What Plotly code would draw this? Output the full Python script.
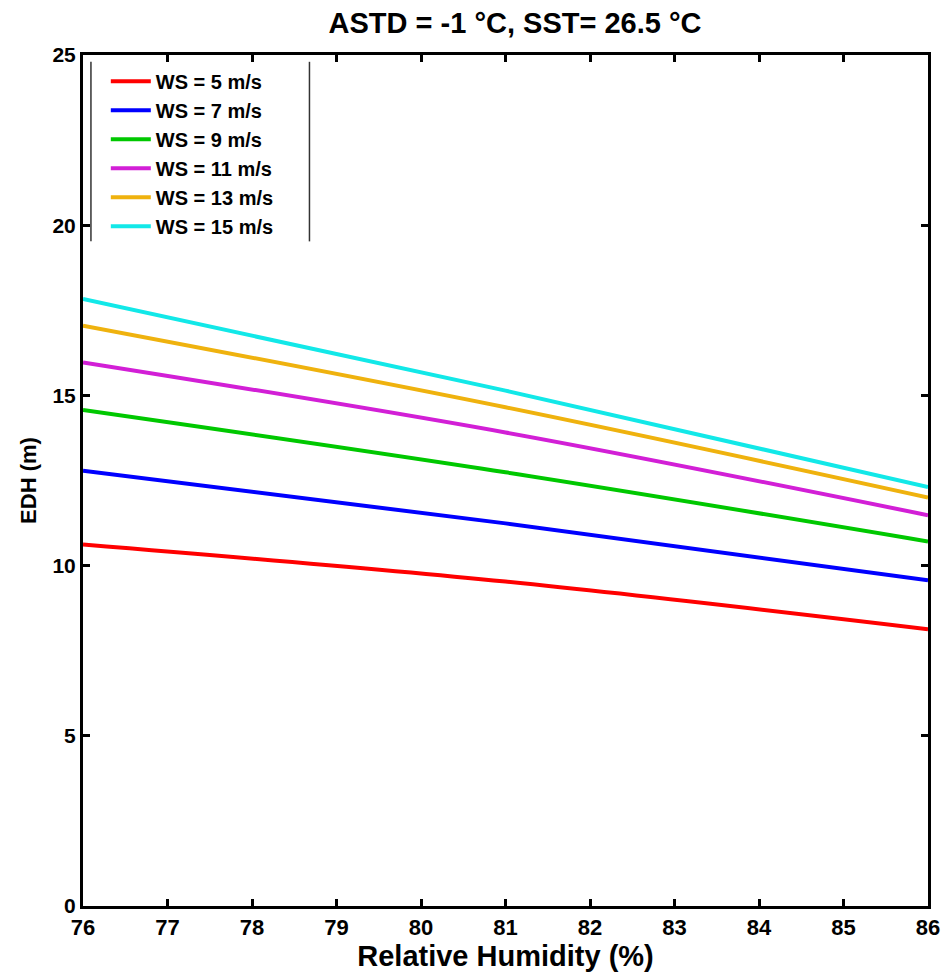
import plotly.graph_objects as go

# Relative humidity sample points (%)
rh = [76, 81, 86]

# Evaporation duct height (m) for each wind speed
edh_ws5 = [10.62, 9.53, 8.13]
edh_ws7 = [12.79, 11.24, 9.57]
edh_ws9 = [14.57, 12.74, 10.71]
edh_ws11 = [15.97, 13.91, 11.48]
edh_ws13 = [17.05, 14.65, 12.00]
edh_ws15 = [17.83, 15.14, 12.31]

series_names = ["WS = 5 m/s", "WS = 7 m/s", "WS = 9 m/s",
                "WS = 11 m/s", "WS = 13 m/s", "WS = 15 m/s"]
series_values = [edh_ws5, edh_ws7, edh_ws9, edh_ws11, edh_ws13, edh_ws15]
series_colors = ["#ff0000", "#0000ff", "#00c800", "#d21fd6", "#efb20e", "#12e8e8"]

x_ticks = list(range(76, 87))
y_ticks = [0, 5, 10, 15, 20, 25]

fig = go.Figure()
for name, vals, col in zip(series_names, series_values, series_colors):
    fig.add_trace(go.Scatter(
        x=rh, y=vals, name=name, mode="lines",
        line=dict(color=col, width=4, shape="spline"),
    ))

font = "Liberation Sans"

fig.update_layout(
    width=952, height=977,
    margin=dict(l=83, r=15, t=55, b=65),
    paper_bgcolor="white", plot_bgcolor="white",
    showlegend=True,
    title=dict(
        text="<b>ASTD = -1 °C, SST= 26.5 °C</b>",
        x=0.541, xanchor="center", y=0.977, yanchor="middle",
        font=dict(family=font, size=29, color="black"),
    ),
    legend=dict(
        x=0.027, y=0.992, xanchor="left", yanchor="top",
        bgcolor="rgba(0,0,0,0)", borderwidth=0,
        font=dict(family=font, size=20, color="black", weight="bold"),
        itemwidth=40,
    ),
    xaxis=dict(
        range=[76, 86], tickvals=x_ticks,
        ticks="inside", ticklen=7, tickwidth=3, tickcolor="black",
        showline=True, linewidth=3, linecolor="black", mirror="ticks",
        showgrid=False, zeroline=False,
        tickfont=dict(family=font, size=22, color="black", weight="bold"),
        title=dict(text="<b>Relative Humidity (%)</b>", standoff=4,
                   font=dict(family=font, size=29, color="black")),
    ),
    yaxis=dict(
        range=[0, 25], tickvals=y_ticks,
        ticks="inside", ticklen=7, tickwidth=3, tickcolor="black",
        showline=True, linewidth=3, linecolor="black", mirror="ticks",
        showgrid=False, zeroline=False,
        tickfont=dict(family=font, size=21, color="black", weight="bold"),
        title=dict(text="<b>EDH (m)</b>", standoff=10,
                   font=dict(family=font, size=22, color="black")),
    ),
)

# Vertical rules on either side of the legend
for xp in [0.0094, 0.268]:
    fig.add_shape(type="line", xref="paper", yref="paper",
                  x0=xp, x1=xp, y0=0.781, y1=0.992,
                  line=dict(color="#333333", width=1.5))

fig.write_html("out.html")
